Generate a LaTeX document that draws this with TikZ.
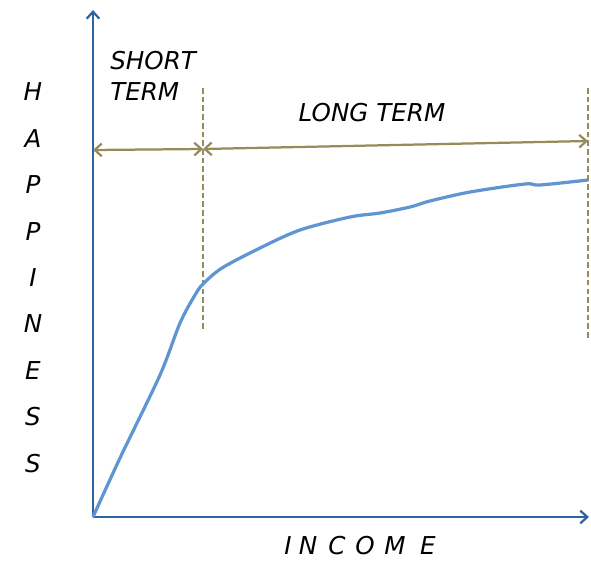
\documentclass[tikz,border=0pt]{standalone}
\usepackage{fontspec}
\newfontfamily\handfont{DejaVu Sans}
\usepackage{tikz}
\usetikzlibrary{arrows.meta}

\definecolor{axisblue}{RGB}{46,100,160}
\definecolor{curveblue}{RGB}{95,150,210}
\definecolor{termolive}{RGB}{150,140,90}

\begin{document}
\begin{tikzpicture}[x=0.025cm,y=-0.025cm,
    lbl/.style={font=\handfont\itshape\fontsize{17.5}{20}\selectfont, inner sep=0pt},
    axisline/.style={axisblue, line width=1.6pt, -{Straight Barb[length=5pt,width=9pt]}},
    span/.style={termolive, line width=1.6pt, {Straight Barb[length=5pt,width=9pt]}-{Straight Barb[length=5pt,width=9pt]}},
    bound/.style={termolive, line width=1.2pt, dash pattern=on 4pt off 2.2pt}]
    \useasboundingbox (0,0) rectangle (591,560);

    % Draw the axes
    \coordinate (O) at (93,517);
    \coordinate (ytop) at (93,10);
    \coordinate (xend) at (589,517);
    \draw[axisline] (O) -- (ytop);
    \draw[axisline] (O) -- (xend);

    % Draw the term boundaries
    \coordinate (s1) at (203,88);
    \coordinate (s2) at (203,330);
    \coordinate (l1) at (588,88);
    \coordinate (l2) at (588,340);
    \draw[bound] (s1) -- (s2);
    \draw[bound] (l1) -- (l2);

    % Draw the spans
    \coordinate (a0) at (93,150);
    \coordinate (a1) at (203,149);
    \coordinate (a2) at (588,141);
    \draw[span] (a0) -- (a1);
    \draw[span] (a1) -- (a2);

    % Draw the curve
    \draw[curveblue, line width=2.3pt] plot[smooth, tension=0.5] coordinates {
        (93,517) (120,458) (160,375) (180,323) (195,295) (203,284)
        (222,268) (260,248) (300,230) (350,217) (380,213) (410,207)
        (430,201) (470,192) (525,184) (540,185) (588,180)};

    % Label the terms
    \node[lbl, anchor=north west, align=left] (short) at (110,51) {SHORT\\[2pt]TERM};
    \node[lbl] (long) at (372,113) {LONG TERM};

    % Label the axes
    \foreach \l [count=\i from 0] in {H,A,P,P,I,N,E,S,S}
        \node[lbl] (h\i) at (33,92+\i*46.4) {\l};
    \foreach \l/\x in {I/288,N/308,C/337,O/365,M/395,E/428}
        \node[lbl] (inc\l) at (\x,546) {\l};

\end{tikzpicture}
\end{document}
